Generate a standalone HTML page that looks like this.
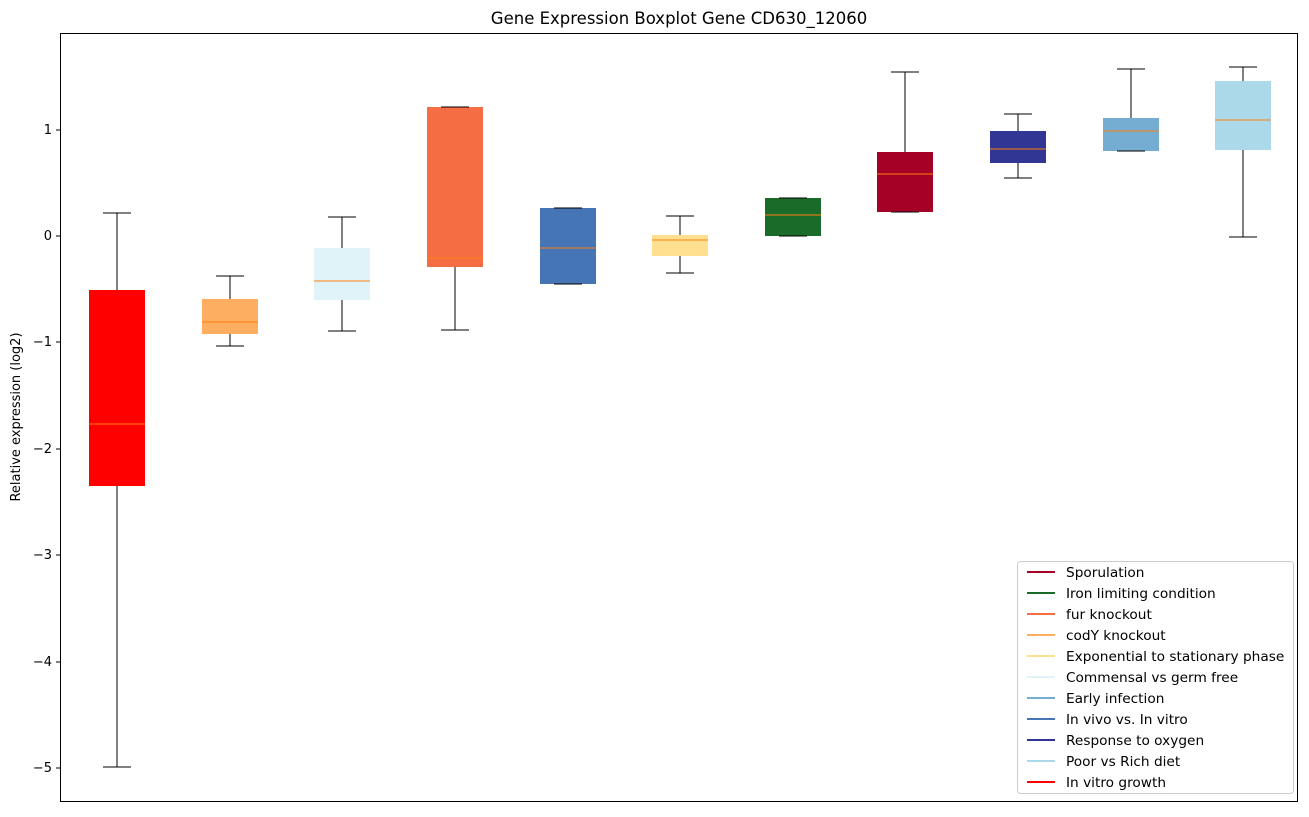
<!DOCTYPE html>
<html><head><meta charset="utf-8"><style>body{margin:0;background:#fff}</style></head><body>
<svg width="1309" height="812" xmlns="http://www.w3.org/2000/svg" font-family="DejaVu Sans, Liberation Sans, sans-serif">
<rect width="1309" height="812" fill="#fff"/>
<text x="679" y="24" font-size="16.5" text-anchor="middle">Gene Expression Boxplot Gene CD630_12060</text>
<g>
<rect x="89" y="290" width="56" height="196" fill="#ff0000"/>
<rect x="202" y="299" width="56" height="35" fill="#fdae61"/>
<rect x="314" y="248" width="56" height="52" fill="#e0f3f8"/>
<rect x="427" y="107" width="56" height="160" fill="#f46d43"/>
<rect x="540" y="208" width="56" height="76" fill="#4575b4"/>
<rect x="652" y="235" width="56" height="21" fill="#fee090"/>
<rect x="765" y="198" width="56" height="38" fill="#1a6b2a"/>
<rect x="877" y="152" width="56" height="60" fill="#a50026"/>
<rect x="990" y="131" width="56" height="32" fill="#313695"/>
<rect x="1103" y="118" width="56" height="33" fill="#74add1"/>
<rect x="1215" y="81" width="56" height="69" fill="#abd9e9"/>
</g>
<g stroke="#000" stroke-width="1" fill="none">
<path d="M117 290V213M103 213H131M117 486V767M103 767H131"/>
<path d="M230 299V276M216 276H244M230 334V346M216 346H244"/>
<path d="M342 248V217M328 217H356M342 300V331M328 331H356"/>
<path d="M441 107H469M455 267V330M441 330H469"/>
<path d="M554 208H582M554 284H582"/>
<path d="M680 235V216M666 216H694M680 256V273M666 273H694"/>
<path d="M779 198H807M779 236H807"/>
<path d="M905 152V72M891 72H919M891 212H919"/>
<path d="M1018 131V114M1004 114H1032M1018 163V178M1004 178H1032"/>
<path d="M1131 118V69M1117 69H1145M1117 151H1145"/>
<path d="M1243 81V67M1229 67H1257M1243 150V237M1229 237H1257"/>
</g>
<g stroke="#ff7f0e" stroke-width="1">
<path d="M89 424H145M202 322H258M314 281H370M427 258H483M540 248H596M652 240H708M765 215H821M877 174H933M990 149H1046M1103 131H1159M1215 120H1271"/>
</g>
<rect x="60.5" y="33.5" width="1237" height="768" fill="none" stroke="#000"/>
<g font-size="13" text-anchor="end">
<path d="M60 130h-4M60 236h-4M60 342h-4M60 449h-4M60 555h-4M60 662h-4M60 768h-4" stroke="#000"/>
<text x="52" y="134">1</text><text x="52" y="240">0</text><text x="52" y="346">−1</text><text x="52" y="453">−2</text><text x="52" y="559">−3</text><text x="52" y="666">−4</text><text x="52" y="772">−5</text>
</g>
<text transform="translate(20,417) rotate(-90)" font-size="13" text-anchor="middle">Relative expression (log2)</text>
<rect x="1017.5" y="561.5" width="276" height="232" rx="3" fill="#fff" stroke="#ccc"/>
<g font-size="13.7" stroke-width="2">
<line x1="1027" x2="1055" y1="572" y2="572" stroke="#a50026"/><text x="1066" y="577">Sporulation</text>
<line x1="1027" x2="1055" y1="593" y2="593" stroke="#1a6b2a"/><text x="1066" y="598">Iron limiting condition</text>
<line x1="1027" x2="1055" y1="614" y2="614" stroke="#f46d43"/><text x="1066" y="619">fur knockout</text>
<line x1="1027" x2="1055" y1="635" y2="635" stroke="#fdae61"/><text x="1066" y="640">codY knockout</text>
<line x1="1027" x2="1055" y1="656" y2="656" stroke="#fee090"/><text x="1066" y="661">Exponential to stationary phase</text>
<line x1="1027" x2="1055" y1="677" y2="677" stroke="#e0f3f8"/><text x="1066" y="682">Commensal vs germ free</text>
<line x1="1027" x2="1055" y1="698" y2="698" stroke="#74add1"/><text x="1066" y="703">Early infection</text>
<line x1="1027" x2="1055" y1="719" y2="719" stroke="#4575b4"/><text x="1066" y="724">In vivo vs. In vitro</text>
<line x1="1027" x2="1055" y1="740" y2="740" stroke="#313695"/><text x="1066" y="745">Response to oxygen</text>
<line x1="1027" x2="1055" y1="761" y2="761" stroke="#abd9e9"/><text x="1066" y="766">Poor vs Rich diet</text>
<line x1="1027" x2="1055" y1="782" y2="782" stroke="#ff0000"/><text x="1066" y="787">In vitro growth</text>
</g>
</svg>
</body></html>
